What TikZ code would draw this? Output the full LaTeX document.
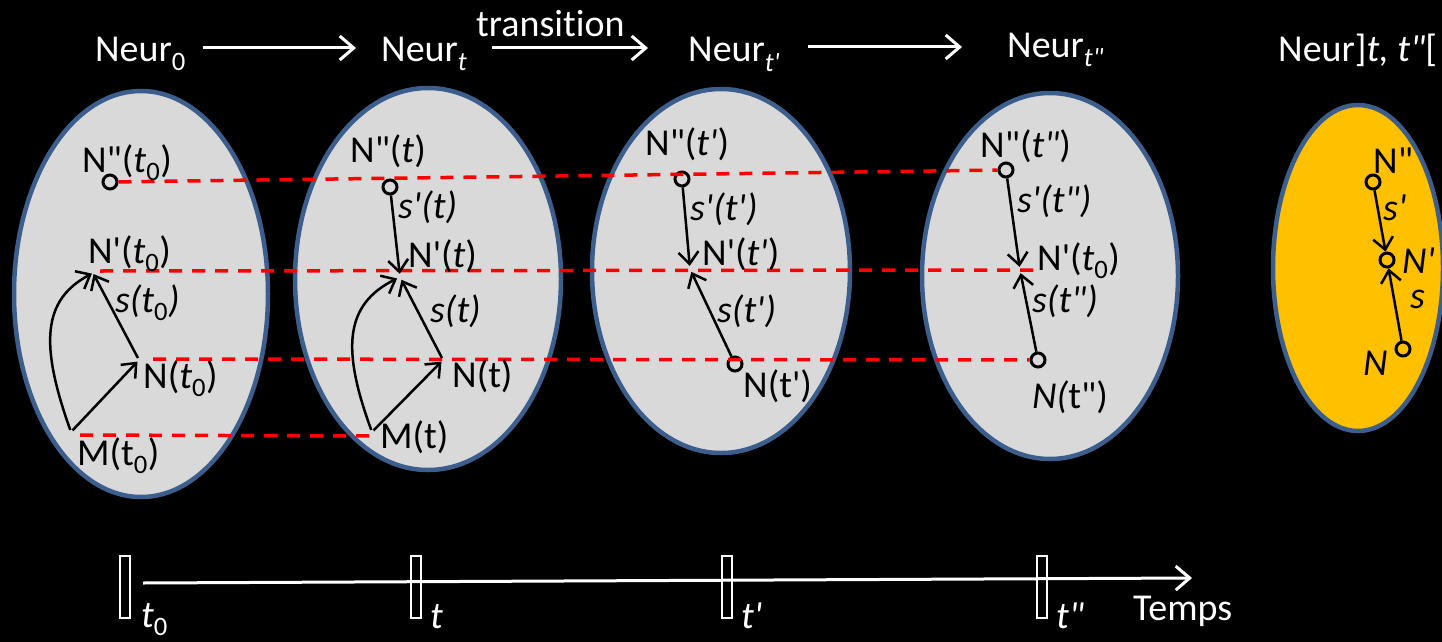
\documentclass[tikz,border=0pt]{standalone}
\usepackage{fontspec}
\setmainfont{Carlito}[Ligatures=CommonOff]
\usepackage{tikz}
\usetikzlibrary{arrows.meta}
\tikzset{every picture/.append style={font=\fontsize{38}{44}\selectfont}}
\definecolor{figgray}{HTML}{D9D9D9}
\definecolor{figrim}{HTML}{3B5E8C}
\definecolor{figred}{HTML}{FF0000}
\definecolor{figgold}{HTML}{FFC000}
\newcommand{\tvar}{\textit{t}}
\newcommand{\pr}{\textquotesingle}
\newcommand{\ppr}{\textquotedbl}
\tikzset{
  cell/.style={draw=figrim,line width=4.5pt,fill=figgray},
  link/.style={figred,line width=3.5pt,dash pattern=on 13pt off 10pt},
  flow/.style={->,line width=2.5pt},
  wflow/.style={-{Straight Barb[length=14pt,width=24pt]},white,line width=3pt},
  pt/.style={circle,draw,line width=3pt,minimum size=14pt,inner sep=0pt},
  hub/.style={circle,inner sep=0pt,minimum size=4pt},
  lab/.style={anchor=base west,inner sep=0pt},
  wlab/.style={lab,text=white},
  tick/.style={draw=white,fill=black,line width=2pt,minimum width=10pt,minimum height=62pt,inner sep=0pt}
}

\begin{document}
\begin{tikzpicture}[x=1pt,y=-1pt,>={Straight Barb[length=12pt,width=20pt]}]
  \clip (0,0) rectangle (1442,642);
  \fill[black] (0,0) rectangle (1442,642);
  % states
  \draw[cell] (141,294) ellipse [x radius=127,y radius=203];
  \draw[cell] (428,279) ellipse [x radius=133,y radius=191];
  \draw[cell] (721,271) ellipse [x radius=129,y radius=182];
  \draw[cell] (1050,276) ellipse [x radius=128,y radius=183];
  \draw[cell,fill=figgold] (1358,268) ellipse [x radius=85,y radius=163];

  % points
  \node[pt] (pp0) at (110,182) {};
  \node[hub,minimum size=2pt] (p0) at (93,273) {};
  \node[hub] (n0) at (139,360) {};
  \node[hub] (m0) at (71,432) {};
  \node[pt] (pp1) at (390,187) {};
  \node[hub,minimum size=6pt] (p1) at (400,277) {};
  \node[hub] (n1) at (443,360) {};
  \node[hub] (m1) at (372,432) {};
  \node[pt] (pp2) at (682,179) {};
  \node[hub,minimum size=6pt] (p2) at (690,269) {};
  \node[pt] (n2) at (735,364) {};
  \node[pt] (pp3) at (1006,170) {};
  \node[hub,minimum size=6pt] (p3) at (1020,270) {};
  \node[pt] (n3) at (1038,360) {};
  \node[pt] (pp4) at (1373,182) {};
  \node[pt] (p4) at (1387,260) {};
  \node[pt] (n4) at (1403,349) {};
  \coordinate (r1a) at (100,271);
  \coordinate (r1b) at (1042,270);
  \coordinate (r2a) at (153,359);
  \coordinate (r3a) at (80,435);
  \coordinate (r3b) at (373,436);

  % red links between the states
  \draw[link] (pp0) -- (pp3);
  \draw[link] (r1a) -- (r1b);
  \draw[link] (r2a) -- (n3);
  \draw[link] (r3a) -- (r3b);

  % arrows inside the states
  \draw[flow] (m0) .. controls (40,345) and (42,300) .. (p0);
  \draw[flow] (m0) -- (n0);
  \draw[flow] (n0) -- (p0);
  \draw[flow] (m1) .. controls (342,350) and (344,305) .. (p1);
  \draw[flow] (m1) -- (n1);
  \draw[flow] (n1) -- (p1);
  \draw[flow] (pp1) -- (p1);
  \draw[flow] (pp2) -- (p2);
  \draw[flow] (n2) -- (p2);
  \draw[flow] (pp3) -- (p3);
  \draw[flow] (n3) -- (p3);
  \draw[flow] (pp4) -- (p4);
  \draw[flow] (n4) -- (p4);

  % labels
  \node[lab] (lpp0) at (82,172) {N\ppr(\tvar\textsubscript{0})};
  \node[lab] (lp0) at (88,263) {N\pr(\tvar\textsubscript{0})};
  \node[lab] (ls0) at (115,312) {\textit{s(t\textsubscript{\upshape 0})}};
  \node[lab] (ln0) at (143,388) {N(\tvar\textsubscript{0})};
  \node[lab] (lm0) at (77,465) {M(t\textsubscript{0})};
  \node[lab] (lpp1) at (350,162) {N\ppr(\tvar)};
  \node[lab] (lsp1) at (398,218) {\textit{s\pr(t)}};
  \node[lab] (lp1) at (408,267) {N\pr(\tvar)};
  \node[lab] (ls1) at (430,322) {\textit{s(t)}};
  \node[lab] (ln1) at (452,387) {N(t)};
  \node[lab] (lm1) at (380,448) {M(t)};
  \node[lab] (lpp2) at (645,155) {N\ppr(\textit{t\pr})};
  \node[lab] (lsp2) at (690,220) {\textit{s\pr(t\pr)}};
  \node[lab] (lp2) at (702,265) {N\pr(\textit{t\pr})};
  \node[lab] (ls2) at (717,322) {\textit{s(t\pr)}};
  \node[lab] (ln2) at (743,397) {N(t\pr)};
  \node[lab] (lpp3) at (980,157) {N\ppr(\textit{t\ppr})};
  \node[lab] (lsp3) at (1017,212) {\textit{s\pr(t\ppr)}};
  \node[lab] (lp3) at (1037,270) {N\pr(\tvar\textsubscript{0})};
  \node[lab] (ls3) at (1032,312) {\textit{s(t\ppr)}};
  \node[lab] (ln3) at (1032,408) {\textit{N(}t\ppr)};
  \node[lab] (lpp4) at (1373,173) {N\ppr};
  \node[lab] (lsp4) at (1383,220) {\textit{s\pr}};
  \node[lab] (lp4) at (1402,273) {\textit{N\pr}};
  \node[lab] (ls4) at (1410,308) {\textit{s}};
  \node[lab] (ln4) at (1363,375) {\textit{N}};

  % top row
  \node[wlab] (st0) at (95,62) {Neur\textsubscript{0}};
  \node[wlab] (st1) at (381,62) {Neur\textsubscript{\textit{t}}};
  \node[wlab] (st2) at (688,62) {Neur\textsubscript{\textit{t\pr}}};
  \node[wlab] (st3) at (1007,57) {Neur\textsubscript{\textit{t\ppr}}};
  \node[wlab] (st4) at (1278,62) {Neur]\textit{t, t\ppr}[};
  \node[wlab] (trn) at (476,37) {transit\kern0pt ion};
  \coordinate (a0) at (203,48);
  \coordinate (a1) at (356,48);
  \coordinate (a2) at (492,48);
  \coordinate (a3) at (648,48);
  \coordinate (a4) at (808,47);
  \coordinate (a5) at (962,47);
  \draw[wflow] (a0) -- (a1);
  \draw[wflow] (a2) -- (a3);
  \draw[wflow] (a4) -- (a5);

  % time axis
  \foreach \xx/\nm in {125/k0,416/k1,727/k2,1042/k3} {\node[tick] (\nm) at (\xx,587) {};}
  \coordinate (tl0) at (143,583);
  \coordinate (tl1) at (1192,578);
  \draw[wflow] (tl0) -- (tl1);
  \node[wlab] (tk0) at (141,627) {\tvar\textsubscript{0}};
  \node[wlab] (tk1) at (430,628) {\tvar};
  \node[wlab] (tk2) at (741,628) {\textit{t\pr}};
  \node[wlab] (tk3) at (1056,628) {\textit{t\ppr}};
  \node[wlab] (tmp) at (1133,620) {Temps};
\end{tikzpicture}
\end{document}
